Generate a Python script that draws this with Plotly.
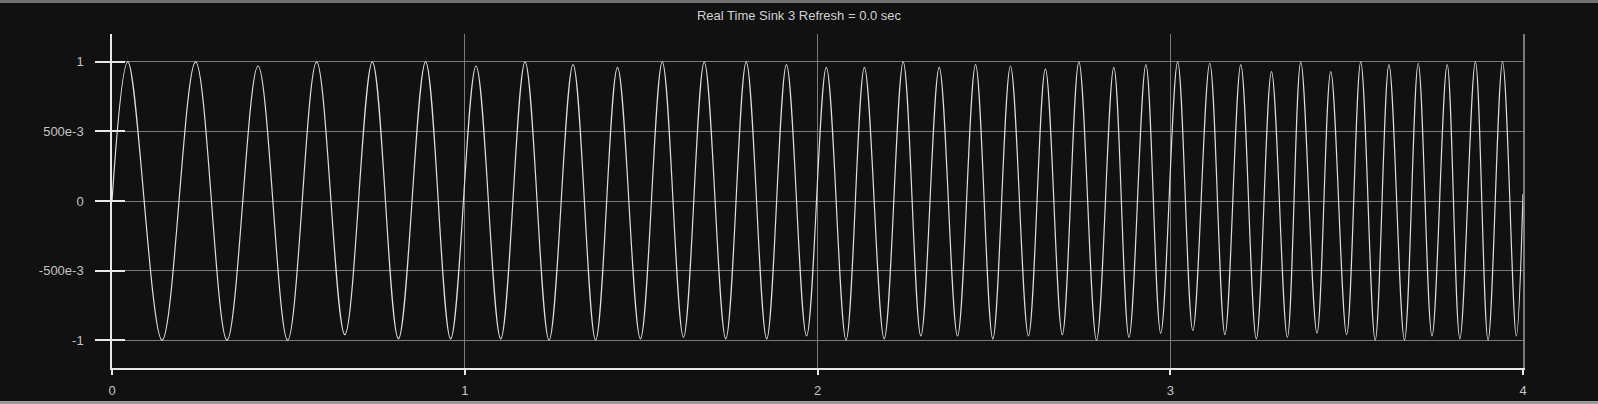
import plotly.graph_objects as go

# extrema of the sink trace (time in s, amplitude)
peak_t = [0.045, 0.237, 0.414, 0.580, 0.738, 0.889, 1.032, 1.171, 1.307, 1.433,
          1.560, 1.679, 1.798, 1.912, 2.025, 2.133, 2.243, 2.345, 2.448, 2.547,
          2.646, 2.741, 2.840, 2.931, 3.021, 3.112, 3.200, 3.287, 3.370, 3.455,
          3.540, 3.620, 3.703, 3.785, 3.865, 3.942]
peak_v = [1.0, 1.0, 0.97, 1.0, 1.0, 1.0, 0.97, 1.0, 0.98, 0.96,
          1.0, 1.0, 1.0, 0.98, 0.96, 0.96, 1.0, 0.96, 0.98, 0.97,
          0.95, 1.0, 0.96, 0.98, 1.0, 0.99, 0.98, 0.93, 1.0, 0.93,
          1.0, 0.98, 0.99, 0.98, 1.0, 1.0]
trough_t = [0.142, 0.326, 0.498, 0.660, 0.812, 0.960, 1.102, 1.239, 1.371, 1.498,
            1.620, 1.740, 1.856, 1.969, 2.081, 2.189, 2.293, 2.397, 2.497, 2.598,
            2.694, 2.791, 2.883, 2.973, 3.064, 3.155, 3.244, 3.332, 3.416, 3.500,
            3.581, 3.664, 3.742, 3.821, 3.901, 3.981]
trough_v = [-1.0, -1.0, -1.0, -0.96, -0.99, -0.99, -0.99, -1.0, -1.0, -0.99,
            -0.98, -0.99, -0.99, -0.97, -1.0, -0.99, -0.97, -0.97, -0.99, -0.97,
            -0.96, -1.0, -0.98, -0.95, -0.93, -0.96, -0.99, -0.98, -0.95, -0.96,
            -1.0, -1.0, -0.97, -0.99, -1.0, -0.97]
start_pt = (0.0, 0.0)
end_pt = (4.0, 0.05)

x_ticks = [0, 1, 2, 3, 4]
y_ticks = [-1, -0.5, 0, 0.5, 1]
y_labels = ["-1", "-500e-3", "0", "500e-3", "1"]

pts = sorted([start_pt, end_pt] + list(zip(peak_t, peak_v)) + list(zip(trough_t, trough_v)))
t = [p[0] for p in pts]
v = [p[1] for p in pts]

BG = "#111111"
GRID = "#7a7a7a"
AXIS = "#e8e8e8"
TXT = "#c4c4c4"
FONT = "Liberation Sans, Arial, sans-serif"

fig = go.Figure()
fig.add_trace(go.Scatter(
    x=t, y=v, mode="lines",
    line=dict(color="#dedede", width=1.2, shape="spline", smoothing=1.0),
    showlegend=False, hoverinfo="skip",
))
# empty traces so the extra tick / border axes get drawn
fig.add_trace(go.Scatter(x=[], y=[], yaxis="y2", showlegend=False))
fig.add_trace(go.Scatter(x=[], y=[], yaxis="y3", showlegend=False))

fig.update_layout(
    width=1598, height=404,
    paper_bgcolor=BG, plot_bgcolor=BG,
    margin=dict(l=112, r=75, t=34, b=36),
    font=dict(family=FONT, size=13, color=TXT),
    title=dict(text="Real Time Sink 3 Refresh = 0.0 sec", x=0.5, xref="container",
               y=1 - 15 / 404, yref="container", yanchor="middle", xanchor="center",
               font=dict(size=13, color="#d2d2d2")),
    xaxis=dict(range=[0, 4], tickvals=x_ticks, ticktext=[str(x) for x in x_ticks],
               showgrid=True, gridcolor=GRID, gridwidth=1, zeroline=False,
               showline=True, linecolor=AXIS, linewidth=1.5, automargin=False,
               ticks="outside", ticklen=5, tickcolor=AXIS, tickwidth=1.5,
               tickfont=dict(size=13, color=TXT), ticklabelstandoff=5),
    yaxis=dict(range=[-1.2, 1.2], tickvals=y_ticks, ticktext=y_labels,
               showgrid=True, gridcolor=GRID, gridwidth=1, zeroline=False,
               showline=True, linecolor=AXIS, linewidth=1.5, automargin=False,
               ticks="outside", ticklen=15, tickcolor=AXIS, tickwidth=1.5,
               tickfont=dict(size=13, color=TXT), ticklabelstandoff=9),
    yaxis2=dict(range=[-1.2, 1.2], overlaying="y", tickvals=y_ticks, automargin=False,
                showticklabels=False, showgrid=False, zeroline=False, showline=False,
                ticks="inside", ticklen=13, tickcolor=AXIS, tickwidth=1.5, side="left"),
    # grey border on the right at t = 4
    yaxis3=dict(range=[-1.2, 1.2], overlaying="y", side="right", automargin=False,
                showticklabels=False, showgrid=False, zeroline=False, ticks="",
                showline=True, linecolor=GRID, linewidth=1.5),
)

# window frame bars above and below the sink
fig.add_shape(type="rect", xref="paper", yref="paper", x0=-0.08, x1=1.06,
              y0=1 + 31 / 334, y1=1 + 34 / 334, fillcolor="#707070", line_width=0, layer="below")
fig.add_shape(type="rect", xref="paper", yref="paper", x0=-0.08, x1=1.06,
              y0=-36 / 334, y1=-33 / 334, fillcolor="#9a9a9a", line_width=0, layer="below")

fig.write_html("out.html", post_script="document.body.style.margin='0';",
               config={"displayModeBar": False})
